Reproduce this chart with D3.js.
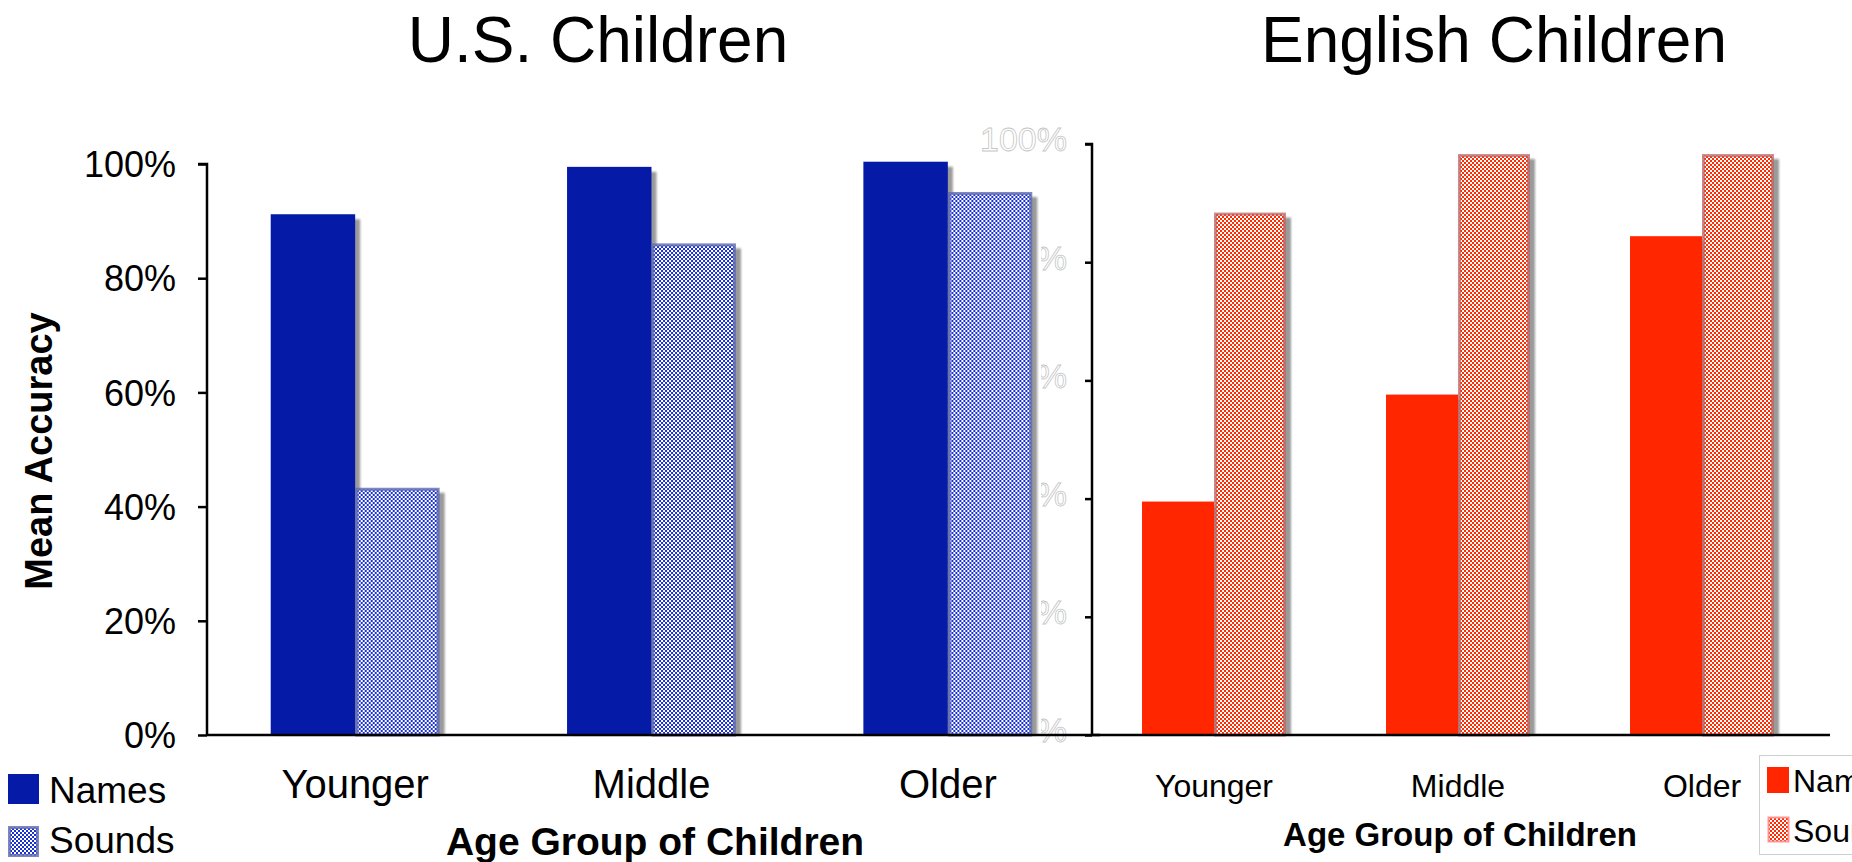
<!DOCTYPE html>
<html>
<head>
<meta charset="utf-8">
<script src="https://cdn.jsdelivr.net/npm/d3@7"></script>
<style>
  html, body { margin: 0; padding: 0; background: #fff; overflow: hidden; }
  svg { display: block; font-family: "Liberation Sans", Arial, Helvetica, sans-serif; }
</style>
</head>
<body>
<svg id="chart" width="1852" height="862"></svg>
<script>
// Age groups and response types
const categories = ["Younger", "Middle", "Older"];
const series = ["Names", "Sounds"];

// Mean accuracy (proportion correct) per age group
const usNames = [0.912, 0.995, 1.004];
const usSounds = [0.433, 0.861, 0.951];
const enNames = [0.395, 0.576, 0.844];
const enSounds = [0.884, 0.983, 0.983];

const yTicks = [0, 0.2, 0.4, 0.6, 0.8, 1.0];

const svg = d3.select("#chart");
const defs = svg.append("defs");

// checkered fills for the "Sounds" bars
function checker(id, color) {
  const p = defs.append("pattern")
    .attr("id", id).attr("patternUnits", "userSpaceOnUse")
    .attr("width", 4).attr("height", 4);
  p.append("rect").attr("width", 4).attr("height", 4).attr("fill", "#fff");
  p.append("rect").attr("width", 2).attr("height", 2).attr("fill", color);
  p.append("rect").attr("x", 2).attr("y", 2).attr("width", 2).attr("height", 2).attr("fill", color);
}
checker("checkBlue", "#1a32d2");
checker("checkRed", "#ff2a00");

defs.append("filter").attr("id", "soft")
  .append("feGaussianBlur").attr("stdDeviation", 1.2);

const fmt = d3.format(".0%");

function drawPanel(opt) {
  const g = svg.append("g");
  const y = d3.scaleLinear().domain([0, 1]).range([opt.y0, opt.y1]);
  const x0 = d3.scaleBand().domain(categories).range(opt.xRange)
    .paddingInner(opt.padIn).paddingOuter(opt.padIn / 2);
  const x1 = d3.scaleBand().domain(series).range([0, x0.bandwidth()]);

  const rows = categories.map((c, i) => ({
    cat: c,
    vals: [{ s: "Names", v: opt.names[i] }, { s: "Sounds", v: opt.sounds[i] }]
  }));

  if (opt.bg) {
    g.append("rect").attr("x", opt.bg[0]).attr("y", opt.bg[1])
      .attr("width", opt.bg[2]).attr("height", opt.bg[3]).attr("fill", "#fff");
  }

  // y axis
  const yAxis = d3.axisLeft(y).tickValues(yTicks).tickFormat(fmt)
    .tickSize(opt.tick).tickPadding(opt.tickPad);
  const ax = g.append("g").attr("transform", `translate(${opt.xRange[0]},0)`).call(yAxis);
  ax.select(".domain").attr("stroke", "#000").attr("stroke-width", 2.5)
    .attr("d", `M${-opt.tick},${y(1)}H0V${y(0)}`);
  ax.selectAll(".tick line").attr("stroke", "#000").attr("stroke-width", 2.5);
  ax.selectAll(".tick text")
    .attr("font-size", opt.tickFont).attr("font-family", "Liberation Sans, Arial, sans-serif")
    .attr("dy", opt.tickDy)
    .attr("fill", opt.ghost ? "#fff" : "#000")
    .attr("stroke", opt.ghost ? "#c6c6c6" : "none")
    .attr("stroke-width", opt.ghost ? 0.8 : 0);

  const groups = g.selectAll(".grp").data(rows).join("g")
    .attr("transform", d => `translate(${x0(d.cat)},0)`);

  // drop shadows
  groups.selectAll(".shadow").data(d => d.vals).join("rect")
    .attr("x", d => x1(d.s) + 5).attr("y", d => y(d.v) + 5)
    .attr("width", x1.bandwidth()).attr("height", d => y(0) - y(d.v) - 5)
    .attr("fill", "#9a9a9a").attr("filter", "url(#soft)");

  // bars
  groups.selectAll(".bar").data(d => d.vals).join("rect")
    .attr("x", d => x1(d.s) + (d.s === "Sounds" ? 1.5 : 0))
    .attr("y", d => y(d.v) + (d.s === "Sounds" ? 1.5 : 0))
    .attr("width", d => x1.bandwidth() - (d.s === "Sounds" ? 3 : 0))
    .attr("height", d => y(0) - y(d.v) - (d.s === "Sounds" ? 1.5 : 0))
    .attr("fill", d => d.s === "Names" ? opt.solid : opt.pattern)
    .attr("stroke", d => d.s === "Names" ? "none" : opt.edge)
    .attr("stroke-width", 3);

  // baseline
  g.append("line").attr("x1", opt.xRange[0]).attr("x2", opt.baseEnd)
    .attr("y1", y(0)).attr("y2", y(0)).attr("stroke", "#000").attr("stroke-width", 2.5);

  // category labels
  g.selectAll(".cat").data(categories).join("text")
    .attr("x", d => x0(d) + x0.bandwidth() / 2).attr("y", opt.catY)
    .attr("text-anchor", "middle").attr("font-size", opt.catFont).text(d => d);

  g.append("text").attr("x", opt.xTitleX).attr("y", opt.xTitleY)
    .attr("text-anchor", "middle").attr("font-size", opt.xTitleFont)
    .attr("font-weight", "bold").text("Age Group of Children");

  g.append("text").attr("x", opt.titleX).attr("y", 62)
    .attr("text-anchor", "middle").attr("font-size", 64).text(opt.title);
}

// English panel (drawn first; the U.S. panel's plot area sits over its left edge)
drawPanel({
  title: "English Children", titleX: 1494,
  names: enNames, sounds: enSounds,
  y0: 735, y1: 144, xRange: [1092, 1824], padIn: 0.41, baseEnd: 1830,
  tick: 7, tickPad: 18, tickFont: 34, tickDy: "0.2em", ghost: true,
  solid: "#ff2600", pattern: "url(#checkRed)", edge: "rgba(185,100,100,0.75)",
  catY: 797, catFont: 32, xTitleX: 1460, xTitleY: 846, xTitleFont: 33
});

// U.S. panel
drawPanel({
  title: "U.S. Children", titleX: 598,
  names: usNames, sounds: usSounds,
  y0: 735, y1: 164, xRange: [207, 1096], padIn: 0.43, baseEnd: 1100,
  tick: 9, tickPad: 22, tickFont: 36, tickDy: "0.35em", ghost: false,
  bg: [0, 158, 1041, 600],
  solid: "#051ba8", pattern: "url(#checkBlue)", edge: "rgba(95,105,175,0.8)",
  catY: 798, catFont: 40, xTitleX: 655, xTitleY: 855, xTitleFont: 39
});

// y axis title
svg.append("text").attr("transform", "translate(52,451) rotate(-90)")
  .attr("text-anchor", "middle").attr("font-size", 38).attr("font-weight", "bold")
  .text("Mean Accuracy");

// U.S. legend
const legL = svg.append("g");
legL.selectAll("rect").data(series).join("rect")
  .attr("x", d => d === "Sounds" ? 9.5 : 8).attr("y", (d, i) => (i ? 827.5 : 774))
  .attr("width", d => d === "Sounds" ? 28 : 31).attr("height", d => d === "Sounds" ? 28 : 30)
  .attr("fill", d => d === "Names" ? "#051ba8" : "url(#checkBlue)")
  .attr("stroke", d => d === "Names" ? "none" : "rgba(95,105,175,0.8)").attr("stroke-width", 3);
legL.selectAll("text").data(series).join("text")
  .attr("x", 49).attr("y", (d, i) => (i ? 853 : 803))
  .attr("font-size", 37).text(d => d);

// English legend (box runs past the right edge)
const legR = svg.append("g");
legR.append("rect").attr("x", 1759.5).attr("y", 755.5).attr("width", 120).attr("height", 99)
  .attr("fill", "#fff").attr("stroke", "#cfcfcf").attr("stroke-width", 1);
legR.selectAll(".sw").data(series).join("rect")
  .attr("x", d => d === "Sounds" ? 1768.5 : 1767).attr("y", (d, i) => (i ? 817.5 : 767))
  .attr("width", d => d === "Sounds" ? 20 : 22).attr("height", d => d === "Sounds" ? 24 : 26)
  .attr("fill", d => d === "Names" ? "#ff2600" : "url(#checkRed)")
  .attr("stroke", d => d === "Names" ? "none" : "rgba(255,140,140,0.9)").attr("stroke-width", 2);
legR.selectAll("text").data(series).join("text")
  .attr("x", 1793).attr("y", (d, i) => (i ? 842 : 792))
  .attr("font-size", 32).text(d => d);
</script>
</body>
</html>
